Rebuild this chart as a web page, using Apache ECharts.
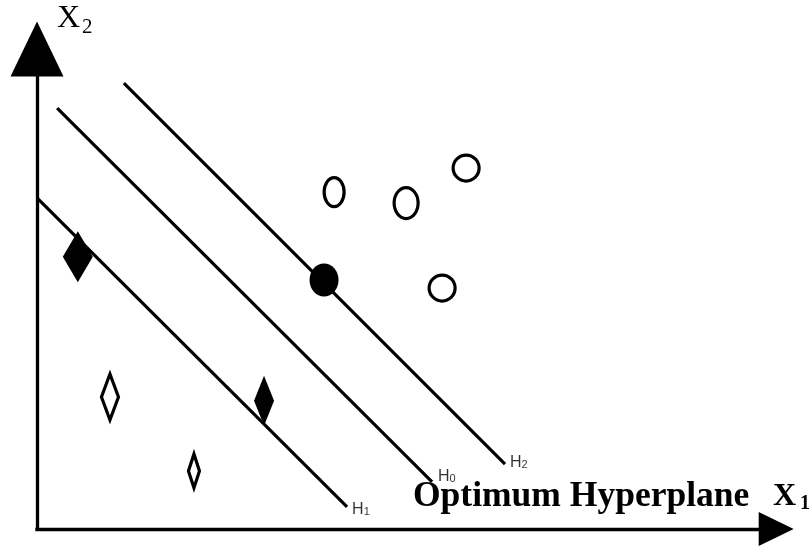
<!DOCTYPE html>
<html>
<head>
<meta charset="utf-8">
<script src="https://cdn.jsdelivr.net/npm/echarts@6/dist/echarts.min.js"></script>
<style>
html,body{margin:0;padding:0;background:#fff;}
#chart{width:809px;height:548px;}
</style>
</head>
<body>
<div id="chart"></div>
<script>
// ---------- data (feature space units) ----------
const lineLetters = ['H', 'H', 'H'];
const lineSubscripts = ['1', '0', '2'];
const hyperplaneH1 = [[0.00, 6.90], [6.46, 0.46]];
const hyperplaneH0 = [[0.42, 8.77], [8.23, 0.98]];
const hyperplaneH2 = [[1.81, 9.29], [9.75, 1.35]];
const classAOpen = [[1.52, 2.75], [3.27, 1.21]];            // open diamonds
const classASupport = [[0.85, 5.67], [4.73, 2.67]];         // filled diamonds (support vectors)
const classBOpen = [[6.19, 7.02], [7.69, 6.79], [8.94, 7.52], [8.44, 5.02]]; // open circles
const classBSupport = [[5.98, 5.19]];                       // filled circle (support vector)
const axisLetters = ['X', 'X'];
const axisSubscripts = ['1', '2'];
const annotationText = 'Optimum Hyperplane';
const xRange = [0, 15.4];
const yRange = [0, 10];

// ---------- styles (pixel sizes) ----------
const SHAPE_SIZE = {
  classAOpen: [[17, 46], [11, 34]],
  classASupport: [[30, 51], [20, 50]],
  classBOpen: [[20, 29], [24, 31], [26, 26], [26, 26]],
  classBSupport: [[29, 33]]
};
const LABEL_LAYOUT = [
  { distance: 4.5, offset: [0, 3] },
  { distance: 5.5, offset: [0, -5] },
  { distance: 4.5, offset: [0, -1.5] }
];
const SERIF = '"Liberation Serif", "Times New Roman", serif';
const SANS = '"Liberation Sans", Arial, sans-serif';

function shapeSeries(name, data, sizes, kind, filled) {
  return {
    type: 'custom',
    name: name,
    coordinateSystem: 'cartesian2d',
    data: data,
    encode: { x: 0, y: 1 },
    silent: true,
    z: 5,
    clip: false,
    renderItem: function (params, api) {
      const p = api.coord([api.value(0), api.value(1)]);
      const s = sizes[params.dataIndex];
      const style = filled
        ? { fill: '#000', stroke: null }
        : { fill: '#fff', stroke: '#000', lineWidth: 3.2, lineJoin: 'miter' };
      if (kind === 'ellipse') {
        return { type: 'ellipse', shape: { cx: p[0], cy: p[1], rx: s[0] / 2, ry: s[1] / 2 }, style: style };
      }
      return {
        type: 'polygon',
        shape: { points: [
          [p[0], p[1] - s[1] / 2], [p[0] + s[0] / 2, p[1]],
          [p[0], p[1] + s[1] / 2], [p[0] - s[0] / 2, p[1]]
        ] },
        style: style
      };
    }
  };
}

function hyperplaneSeries(name, data) {
  return {
    type: 'line', name: name, data: data, symbol: 'none', silent: true, z: 3,
    lineStyle: { color: '#000', width: 3.2, cap: 'butt' }
  };
}

const lineEnds = [hyperplaneH1, hyperplaneH0, hyperplaneH2].map(function (l) { return l[l.length - 1]; });

const chart = echarts.init(document.getElementById('chart'), null, { renderer: 'canvas' });
chart.setOption({
  animation: false,
  backgroundColor: '#fff',
  grid: { left: 37, right: 32.8, top: 49, bottom: 19, containLabel: false, outerBoundsMode: 'none' },
  xAxis: {
    type: 'value', min: xRange[0], max: xRange[1],
    axisLine: { show: true, onZero: false, symbol: ['none', 'triangle'], symbolSize: [34, 35],
      lineStyle: { color: '#000', width: 3.3, cap: 'square' } },
    axisTick: { show: false }, axisLabel: { show: false }, splitLine: { show: false }
  },
  yAxis: {
    type: 'value', min: yRange[0], max: yRange[1],
    axisLine: { show: true, onZero: false, symbol: ['none', 'triangle'], symbolSize: [53, 55],
      lineStyle: { color: '#000', width: 3.3, cap: 'square' } },
    axisTick: { show: false }, axisLabel: { show: false }, splitLine: { show: false }
  },
  series: [
    hyperplaneSeries('H1', hyperplaneH1),
    hyperplaneSeries('H0', hyperplaneH0),
    hyperplaneSeries('H2', hyperplaneH2),
    shapeSeries('classAOpen', classAOpen, SHAPE_SIZE.classAOpen, 'diamond', false),
    shapeSeries('classASupport', classASupport, SHAPE_SIZE.classASupport, 'diamond', true),
    shapeSeries('classBOpen', classBOpen, SHAPE_SIZE.classBOpen, 'ellipse', false),
    shapeSeries('classBSupport', classBSupport, SHAPE_SIZE.classBSupport, 'ellipse', true),
    {
      type: 'scatter', name: 'labels', silent: true, z: 6,
      symbol: 'circle', symbolSize: 1,
      itemStyle: { color: 'rgba(0,0,0,0)' },
      label: {
        show: true, position: 'right',
        rich: {
          h: { fontSize: 16, fontFamily: SANS, color: '#000' },
          s: { fontSize: 11, fontFamily: SANS, color: '#000', verticalAlign: 'bottom', lineHeight: 7 }
        }
      },
      data: lineEnds.map(function (v, i) {
        return {
          value: v,
          label: {
            distance: LABEL_LAYOUT[i].distance,
            offset: LABEL_LAYOUT[i].offset,
            formatter: '{h|' + lineLetters[i] + '}{s|' + lineSubscripts[i] + '}'
          }
        };
      })
    }
  ],
  graphic: [
    { type: 'text', x: 413, y: 497, silent: true,
      style: { text: annotationText, font: 'bold 35.5px ' + SERIF, fill: '#000',
        align: 'left', verticalAlign: 'middle', textAlign: 'left', textVerticalAlign: 'middle' } },
    { type: 'text', x: 773, y: 497, silent: true,
      style: { text: axisLetters[0], font: 'bold 32px ' + SERIF, fill: '#000',
        align: 'left', verticalAlign: 'middle', textAlign: 'left', textVerticalAlign: 'middle' } },
    { type: 'text', x: 800, y: 504, silent: true,
      style: { text: axisSubscripts[0], font: 'bold 20px ' + SERIF, fill: '#000',
        align: 'left', verticalAlign: 'middle', textAlign: 'left', textVerticalAlign: 'middle' } },
    { type: 'text', x: 57, y: 19, silent: true,
      style: { text: axisLetters[1], font: '32px ' + SERIF, fill: '#000',
        align: 'left', verticalAlign: 'middle', textAlign: 'left', textVerticalAlign: 'middle' } },
    { type: 'text', x: 82, y: 27, silent: true,
      style: { text: axisSubscripts[1], font: '21px ' + SERIF, fill: '#000',
        align: 'left', verticalAlign: 'middle', textAlign: 'left', textVerticalAlign: 'middle' } }
  ]
});
</script>
</body>
</html>
